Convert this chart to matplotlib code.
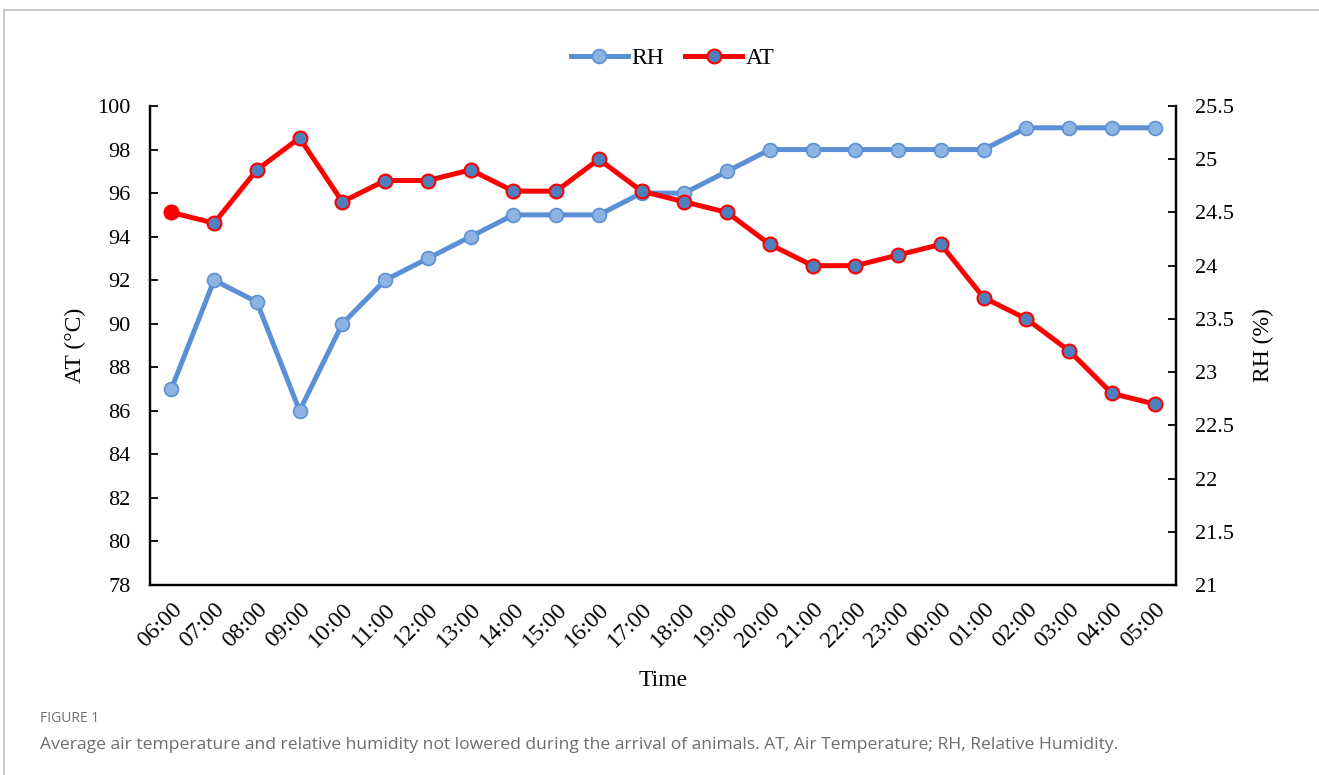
import matplotlib.pyplot as plt
from matplotlib.patches import Rectangle

times = ["06:00", "07:00", "08:00", "09:00", "10:00", "11:00", "12:00", "13:00",
         "14:00", "15:00", "16:00", "17:00", "18:00", "19:00", "20:00", "21:00",
         "22:00", "23:00", "00:00", "01:00", "02:00", "03:00", "04:00", "05:00"]
rh = [87, 92, 91, 86, 90, 92, 93, 94, 95, 95, 95, 96, 96, 97, 98, 98,
      98, 98, 98, 98, 99, 99, 99, 99]
at = [24.5, 24.4, 24.9, 25.2, 24.6, 24.8, 24.8, 24.9, 24.7, 24.7, 25.0, 24.7,
      24.6, 24.5, 24.2, 24.0, 24.0, 24.1, 24.2, 23.7, 23.5, 23.2, 22.8, 22.7]
at_ticks = [21, 21.5, 22, 22.5, 23, 23.5, 24, 24.5, 25, 25.5]

serif = "Liberation Serif"
blue_line = "#5B8FD6"
blue_light = "#8DB3E2"
blue_dark = "#4F7FBF"
red = "#FF0000"

fig = plt.figure(figsize=(13.19, 7.75), dpi=100)

# outer frame of the figure panel
fig.patches.append(Rectangle((0.003, -0.05), 1.2, 1.037, transform=fig.transFigure,
                             fill=False, edgecolor="#BDBDBD", linewidth=1.2))

ax = fig.add_axes([0.1137, 0.2452, 0.7779, 0.618])
ax2 = ax.twinx()

x = list(range(len(times)))
l1, = ax.plot(x, rh, color=blue_line, linewidth=3.6, marker="o", markersize=10,
              markerfacecolor=blue_light, markeredgecolor=blue_line,
              markeredgewidth=1.2, zorder=3, label="RH")
l2, = ax2.plot(x, at, color=red, linewidth=3.6, marker="o", markersize=10,
               markerfacecolor=blue_dark, markeredgecolor=red,
               markeredgewidth=1.5, zorder=3, label="AT")
# first AT point drawn solid red
ax2.plot(x[0], at[0], marker="o", markersize=10, color=red, linestyle="none", zorder=4)

ax.set_xlim(-0.5, len(times) - 0.5)
ax.set_ylim(78, 100)
ax.set_yticks(range(78, 101, 2))
ax2.set_ylim(21, 25.5)
ax2.set_yticks(at_ticks)
ax2.set_yticklabels([f"{t:g}" for t in at_ticks])

ax.set_xticks(x)
ax.set_xticklabels(times, rotation=45, ha="right", rotation_mode="anchor",
                   fontsize=17, family=serif)
ax.tick_params(axis="x", length=0, pad=10)
ax.tick_params(axis="y", direction="in", length=6, width=1.3, labelsize=16, pad=14)
ax2.tick_params(axis="y", direction="in", length=6, width=1.3, labelsize=16, pad=14)
for lab in ax.get_yticklabels() + ax2.get_yticklabels():
    lab.set_family(serif)

for a in (ax, ax2):
    a.spines["top"].set_visible(False)
    for s in ("left", "right", "bottom"):
        a.spines[s].set_linewidth(1.6)
        a.spines[s].set_color("black")

ax.set_ylabel("AT (°C)", fontsize=17, family=serif, labelpad=8)
ax2.set_ylabel("RH (%)", fontsize=17, family=serif, labelpad=13)
ax.set_xlabel("Time", fontsize=17, family=serif, labelpad=13)

ax2.set_zorder(ax.get_zorder() + 1)
ax.patch.set_visible(True)
ax2.patch.set_visible(False)

fig.legend(handles=[l1, l2], loc="center", bbox_to_anchor=(0.51, 0.925), ncol=2,
           frameon=False, prop={"family": serif, "size": 17},
           handlelength=2.4, columnspacing=0.9, handletextpad=0.15)

fig.text(0.030, 0.068, "FIGURE 1", fontsize=10, color="#6E6E6E", family="Open Sans")
fig.text(0.030, 0.033,
         "Average air temperature and relative humidity not lowered during the arrival of animals. "
         "AT, Air Temperature; RH, Relative Humidity.",
         fontsize=12.6, color="#6E6E6E", family="Open Sans")

fig.savefig("out.png", dpi=100)
